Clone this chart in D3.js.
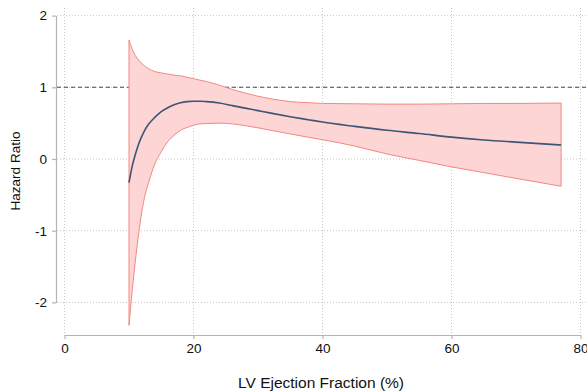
<!DOCTYPE html>
<html>
<head>
<meta charset="utf-8">
<title>Hazard ratio by LV ejection fraction</title>
<script src="https://cdn.jsdelivr.net/npm/d3@7"></script>
<style>
    body { margin: 0; background: #fff; }
    svg { display: block; font-family: "Liberation Sans", Arial, Helvetica, sans-serif; }
    .grid line { stroke: #c8c8c8; stroke-width: 1; stroke-dasharray: 1, 2; }
    .axis path, .axis line { stroke: #b4b4b4; stroke-width: 1.2; }
    .axis text { fill: #111; font-size: 13.5px; }
    .title { fill: #111; }
</style>
</head>
<body>
<script>
    // LV ejection fraction (%)
    const ef = [10, 10.5, 11, 11.5, 12, 12.5, 13, 14, 15, 16, 17, 18, 19, 20, 21, 22,
        24, 26, 28, 30, 32, 35, 38, 40, 45, 50, 55, 60, 65, 70, 77];
    // hazard ratio estimate
    const hr = [-0.33, -0.10, 0.07, 0.21, 0.32, 0.41, 0.48, 0.58, 0.66, 0.715, 0.755, 0.785, 0.80, 0.805, 0.805, 0.80,
        0.78, 0.745, 0.71, 0.675, 0.64, 0.59, 0.545, 0.515, 0.455, 0.40, 0.355, 0.305, 0.265, 0.235, 0.195];
    // confidence band
    const lower = [-2.32, -1.83, -1.41, -1.04, -0.73, -0.50, -0.34, -0.07, 0.10, 0.24, 0.33, 0.40, 0.44, 0.47, 0.49, 0.495,
        0.50, 0.49, 0.465, 0.435, 0.40, 0.35, 0.30, 0.27, 0.18, 0.07, -0.02, -0.11, -0.19, -0.27, -0.38];
    const upper = [1.66, 1.53, 1.44, 1.38, 1.33, 1.29, 1.26, 1.22, 1.20, 1.185, 1.17, 1.16, 1.14, 1.12, 1.10, 1.08,
        1.03, 0.97, 0.92, 0.875, 0.84, 0.80, 0.785, 0.775, 0.77, 0.765, 0.765, 0.77, 0.775, 0.775, 0.78];

    const xTicks = [0, 20, 40, 60, 80];
    const yTicks = [-2, -1, 0, 1, 2];
    const refLine = 1;

    const width = 587, height = 392;

    const data = ef.map((d, i) => ({ ef: d, hr: hr[i], lo: lower[i], hi: upper[i] }));

    const x = d3.scaleLinear().domain([0, 80]).range([64.5, 580.5]);
    const y = d3.scaleLinear().domain([-2, 2]).range([302.4, 15.6]);

    const svg = d3.select('body').append('svg')
        .attr('width', width)
        .attr('height', height);

    // gridlines
    const grid = svg.append('g').attr('class', 'grid');
    grid.selectAll('.vgrid')
        .data(xTicks)
        .join('line')
        .attr('x1', d => x(d)).attr('x2', d => x(d))
        .attr('y1', 8).attr('y2', 334);
    grid.selectAll('.hgrid')
        .data(yTicks)
        .join('line')
        .attr('x1', 57).attr('x2', width)
        .attr('y1', d => y(d)).attr('y2', d => y(d));

    // reference line at HR = 1
    svg.append('line')
        .attr('x1', 57).attr('x2', width)
        .attr('y1', y(refLine)).attr('y2', y(refLine))
        .attr('stroke', '#2b4c74')
        .attr('stroke-width', 1.1)
        .attr('stroke-dasharray', '4,3');

    // confidence band
    const band = d3.area()
        .x(d => x(d.ef))
        .y0(d => y(d.lo))
        .y1(d => y(d.hi))
        .curve(d3.curveMonotoneX);

    svg.append('path')
        .attr('d', band(data))
        .attr('fill', '#fdd5d4')
        .attr('stroke', '#f3877f')
        .attr('stroke-width', 1);

    // estimate
    const line = d3.line()
        .x(d => x(d.ef))
        .y(d => y(d.hr))
        .curve(d3.curveMonotoneX);

    svg.append('path')
        .attr('d', line(data))
        .attr('fill', 'none')
        .attr('stroke', '#3d5576')
        .attr('stroke-width', 1.6);

    // axes
    const xAxis = d3.axisBottom(x).tickValues(xTicks).tickSize(4).tickSizeOuter(0).tickPadding(4);
    svg.append('g')
        .attr('class', 'x axis')
        .attr('transform', 'translate(0,335)')
        .call(xAxis);

    // plain hyphen for negatives, as in the original
    const yAxis = d3.axisLeft(y).tickValues(yTicks).tickSize(4).tickSizeOuter(0).tickPadding(5)
        .tickFormat(d => String(d));
    svg.append('g')
        .attr('class', 'y axis')
        .attr('transform', 'translate(56,0)')
        .call(yAxis);

    // titles
    svg.append('text')
        .attr('class', 'title')
        .attr('x', 321)
        .attr('y', 388)
        .attr('text-anchor', 'middle')
        .style('font-size', '15.5px')
        .text('LV Ejection Fraction (%)');

    svg.append('text')
        .attr('class', 'title')
        .attr('transform', 'translate(20,171) rotate(-90)')
        .attr('text-anchor', 'middle')
        .style('font-size', '13.5px')
        .text('Hazard Ratio');
</script>
</body>
</html>
